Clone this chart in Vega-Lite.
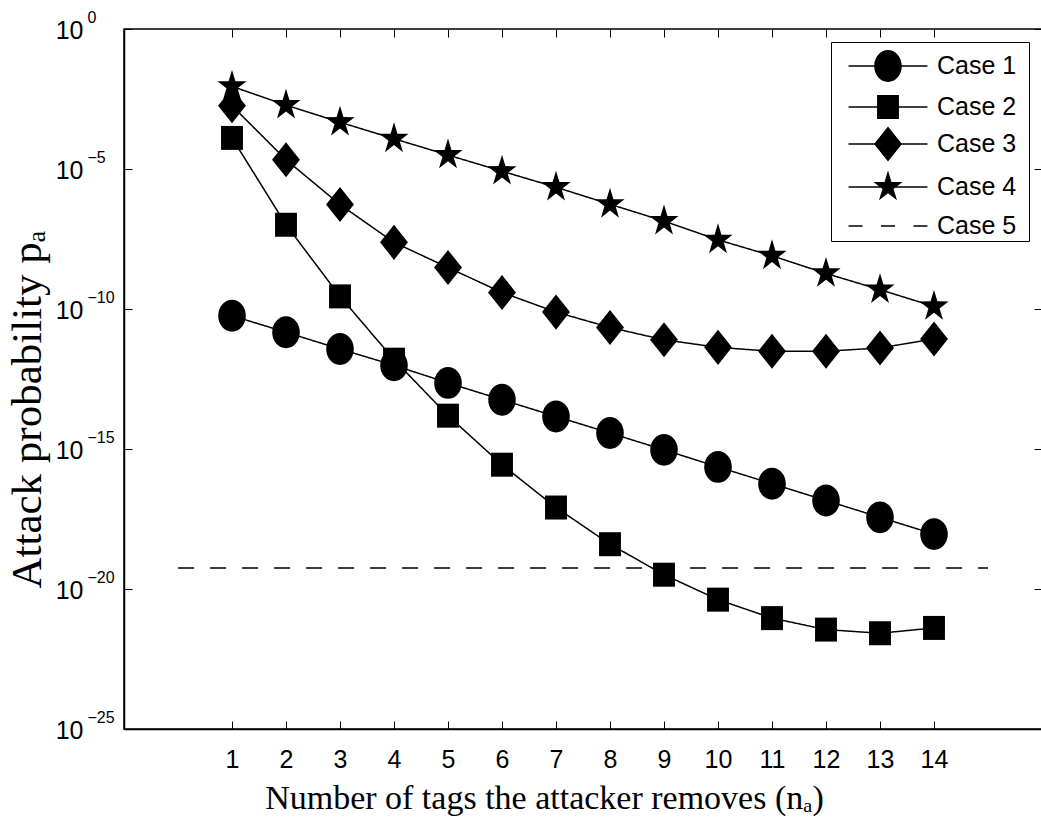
{
  "$schema": "https://vega.github.io/schema/vega-lite/v6.json",
  "width": 918,
  "height": 700,
  "autosize": "none",
  "padding": {"left": 124, "top": 29, "right": 0, "bottom": 92},
  "background": "white",
  "config": {
    "view": {"stroke": "black", "strokeWidth": 1.5},
    "font": "Liberation Sans",
    "axis": {
      "grid": false,
      "domainColor": "black",
      "domainWidth": 1.5,
      "tickColor": "black",
      "tickWidth": 1,
      "tickSize": -8,
      "labelFont": "Liberation Sans",
      "labelFontSize": 25,
      "labelColor": "black",
      "titleFont": "Liberation Serif",
      "titleFontSize": 34,
      "titleFontWeight": "normal",
      "titleColor": "black"
    }
  },
  "data": {
    "values": [
      {"n": 1, "p": 5.75e-11, "case": "Case 1"},
      {"n": 2, "p": 1.48e-11, "case": "Case 1"},
      {"n": 3, "p": 3.72e-12, "case": "Case 1"},
      {"n": 4, "p": 9.77e-13, "case": "Case 1"},
      {"n": 5, "p": 2.29e-13, "case": "Case 1"},
      {"n": 6, "p": 5.75e-14, "case": "Case 1"},
      {"n": 7, "p": 1.45e-14, "case": "Case 1"},
      {"n": 8, "p": 3.72e-15, "case": "Case 1"},
      {"n": 9, "p": 9.33e-16, "case": "Case 1"},
      {"n": 10, "p": 2.29e-16, "case": "Case 1"},
      {"n": 11, "p": 5.75e-17, "case": "Case 1"},
      {"n": 12, "p": 1.45e-17, "case": "Case 1"},
      {"n": 13, "p": 3.63e-18, "case": "Case 1"},
      {"n": 14, "p": 9.12e-19, "case": "Case 1"},
      {"n": 1, "p": 1.29e-4, "case": "Case 2"},
      {"n": 2, "p": 1.02e-7, "case": "Case 2"},
      {"n": 3, "p": 2.82e-10, "case": "Case 2"},
      {"n": 4, "p": 1.55e-12, "case": "Case 2"},
      {"n": 5, "p": 1.55e-14, "case": "Case 2"},
      {"n": 6, "p": 2.75e-16, "case": "Case 2"},
      {"n": 7, "p": 8.13e-18, "case": "Case 2"},
      {"n": 8, "p": 3.98e-19, "case": "Case 2"},
      {"n": 9, "p": 3.24e-20, "case": "Case 2"},
      {"n": 10, "p": 4.17e-21, "case": "Case 2"},
      {"n": 11, "p": 9.12e-22, "case": "Case 2"},
      {"n": 12, "p": 3.55e-22, "case": "Case 2"},
      {"n": 13, "p": 2.63e-22, "case": "Case 2"},
      {"n": 14, "p": 4.07e-22, "case": "Case 2"},
      {"n": 1, "p": 1.82e-3, "case": "Case 3"},
      {"n": 2, "p": 2.14e-5, "case": "Case 3"},
      {"n": 3, "p": 5.37e-7, "case": "Case 3"},
      {"n": 4, "p": 2.40e-8, "case": "Case 3"},
      {"n": 5, "p": 3.02e-9, "case": "Case 3"},
      {"n": 6, "p": 3.89e-10, "case": "Case 3"},
      {"n": 7, "p": 7.76e-11, "case": "Case 3"},
      {"n": 8, "p": 2.19e-11, "case": "Case 3"},
      {"n": 9, "p": 7.94e-12, "case": "Case 3"},
      {"n": 10, "p": 4.27e-12, "case": "Case 3"},
      {"n": 11, "p": 3.09e-12, "case": "Case 3"},
      {"n": 12, "p": 3.09e-12, "case": "Case 3"},
      {"n": 13, "p": 4.07e-12, "case": "Case 3"},
      {"n": 14, "p": 8.51e-12, "case": "Case 3"},
      {"n": 1, "p": 8.91e-3, "case": "Case 4"},
      {"n": 2, "p": 1.91e-3, "case": "Case 4"},
      {"n": 3, "p": 4.68e-4, "case": "Case 4"},
      {"n": 4, "p": 1.20e-4, "case": "Case 4"},
      {"n": 5, "p": 3.16e-5, "case": "Case 4"},
      {"n": 6, "p": 8.32e-6, "case": "Case 4"},
      {"n": 7, "p": 2.24e-6, "case": "Case 4"},
      {"n": 8, "p": 5.50e-7, "case": "Case 4"},
      {"n": 9, "p": 1.38e-7, "case": "Case 4"},
      {"n": 10, "p": 2.95e-8, "case": "Case 4"},
      {"n": 11, "p": 7.94e-9, "case": "Case 4"},
      {"n": 12, "p": 1.86e-9, "case": "Case 4"},
      {"n": 13, "p": 4.90e-10, "case": "Case 4"},
      {"n": 14, "p": 1.23e-10, "case": "Case 4"},
      {"n": 0, "p": 5.62e-20, "case": "Case 5"},
      {"n": 15, "p": 5.62e-20, "case": "Case 5"}
    ]
  },
  "layer": [
    {
      "mark": {"type": "line", "color": "black", "strokeWidth": 1.5},
      "encoding": {
        "x": {
          "field": "n", "type": "quantitative",
          "scale": {"domain": [-1, 16], "nice": false, "zero": false},
          "axis": {
            "orient": "bottom",
            "values": [1, 2, 3, 4, 5, 6, 7, 8, 9, 10, 11, 12, 13, 14],
            "labelPadding": 26,
            "title": "Number of tags the attacker removes (nₐ)",
            "titleX": 420,
            "titleY": 79,
            "titleBaseline": "alphabetic"
          }
        },
        "y": {
          "field": "p", "type": "quantitative",
          "scale": {"type": "log", "domain": [1e-25, 1], "nice": false},
          "axis": {
            "orient": "left",
            "values": [1, 1e-5, 1e-10, 1e-15, 1e-20, 1e-25],
            "labelExpr": "'10'",
            "labelPadding": 49,
            "labelOffset": 1,
            "title": "Attack probability pₐ",
            "titleFontSize": 43,
            "titleAngle": 270,
            "titleX": -84,
            "titleY": 380,
            "titleBaseline": "alphabetic"
          }
        },
        "detail": {"field": "case", "type": "nominal"},
        "strokeDash": {
          "field": "case", "type": "nominal",
          "scale": {
            "domain": ["Case 1", "Case 2", "Case 3", "Case 4", "Case 5"],
            "range": [[1, 0], [1, 0], [1, 0], [1, 0], [16, 16]]
          },
          "legend": null
        }
      }
    },
    {
      "transform": [{"filter": "datum.case != 'Case 5'"}],
      "mark": {"type": "point", "filled": true, "color": "black", "size": 900, "opacity": 1, "strokeWidth": 0},
      "encoding": {
        "x": {
          "field": "n", "type": "quantitative",
          "scale": {"domain": [-1, 16], "nice": false, "zero": false},
          "axis": {
            "orient": "top",
            "values": [1, 2, 3, 4, 5, 6, 7, 8, 9, 10, 11, 12, 13, 14],
            "labels": false, "title": null, "domain": false
          }
        },
        "y": {
          "field": "p", "type": "quantitative",
          "scale": {"type": "log", "domain": [1e-25, 1], "nice": false},
          "axis": {
            "orient": "right",
            "values": [1, 1e-5, 1e-10, 1e-15, 1e-20, 1e-25],
            "labels": false, "title": null, "domain": false
          }
        },
        "shape": {
          "field": "case", "type": "nominal",
          "scale": {
            "domain": ["Case 1", "Case 2", "Case 3", "Case 4"],
            "range": [
              "M-0.92,0A0.92,1.06 0 1,1 0.92,0A0.92,1.06 0 1,1 -0.92,0Z",
              "M-0.73,-0.8H0.73V0.8H-0.73Z",
              "M-0.93,0L0,-1.17L0.93,0L0,1.17Z",
              "M0,-1.1L0.229,-0.341L0.97,-0.34L0.371,0.13L0.6,0.891L0,0.421L-0.6,0.891L-0.371,0.13L-0.97,-0.34L-0.229,-0.341Z"
            ]
          },
          "legend": null
        }
      }
    },
    {
      "mark": {"type": "point", "filled": true, "fill": "black", "stroke": "black", "strokeWidth": 1.5, "size": 900, "opacity": 0},
      "encoding": {
        "x": {
          "field": "n", "type": "quantitative",
          "scale": {"domain": [-1, 16], "nice": false, "zero": false},
          "axis": null
        },
        "y": {
          "field": "p", "type": "quantitative",
          "scale": {"type": "log", "domain": [1e-25, 1], "nice": false},
          "axis": {
            "orient": "left",
            "offset": 0,
            "values": [1, 1e-5, 1e-10, 1e-15, 1e-20, 1e-25],
            "labelExpr": "datum.value > 0.1 ? '0' : datum.value > 1e-6 ? '−5' : datum.value > 1e-11 ? '−10' : datum.value > 1e-16 ? '−15' : datum.value > 1e-21 ? '−20' : '−25'",
            "labelAlign": "left",
            "labelBaseline": "alphabetic",
            "labelFontSize": 16,
            "labelPadding": 37,
            "labelOffset": -7,
            "ticks": false,
            "tickSize": 0,
            "domain": false,
            "title": null
          }
        },
        "shape": {
          "field": "case", "type": "nominal",
          "scale": {
            "domain": ["Case 1", "Case 2", "Case 3", "Case 4", "Case 5"],
            "range": [
              "M-1.879,-0.036H1.879V0.036H-1.879ZM-0.657,0A0.657,0.757 0 1,1 0.657,0A0.657,0.757 0 1,1 -0.657,0ZM6.476,0",
              "M-1.879,-0.036H1.879V0.036H-1.879ZM-0.521,-0.571H0.521V0.571H-0.521ZM6.476,0",
              "M-1.879,-0.036H1.879V0.036H-1.879ZM-0.664,0L0,-0.836L0.664,0L0,0.836ZM6.476,0",
              "M-1.879,-0.036H1.879V0.036H-1.879ZM0,-0.786L0.164,-0.244L0.693,-0.243L0.265,0.093L0.429,0.636L0,0.301L-0.429,0.636L-0.265,0.093L-0.693,-0.243L-0.164,-0.244ZM6.476,0",
              "M-1.879,-0.036H-1.214V0.036H-1.879ZM-0.336,-0.036H0.336V0.036H-0.336ZM1.214,-0.036H1.879V0.036H1.214ZM6.476,0"
            ]
          },
          "legend": {
            "title": null,
            "orient": "top-right",
            "offset": 13,
            "padding": 2,
            "strokeColor": "black",
            "fillColor": "white",
            "cornerRadius": 0,
            "symbolSize": 1764,
            "symbolStrokeWidth": 1.5,
            "symbolStrokeColor": "black",
            "symbolFillColor": "black",
            "symbolOpacity": 1,
            "symbolOffset": 33,
            "labelOffset": 27,
            "rowPadding": -12,
            "labelFont": "Liberation Sans",
            "labelFontSize": 25,
            "labelColor": "black",
            "labelLimit": 300,
            "encode": {
              "symbols": {
                "update": {
                  "opacity": {"value": 1},
                  "fill": {"value": "black"}
                }
              }
            }
          }
        }
      }
    }
  ],
  "resolve": {
    "axis": {"x": "independent", "y": "independent"},
    "scale": {"shape": "independent"}
  }
}
